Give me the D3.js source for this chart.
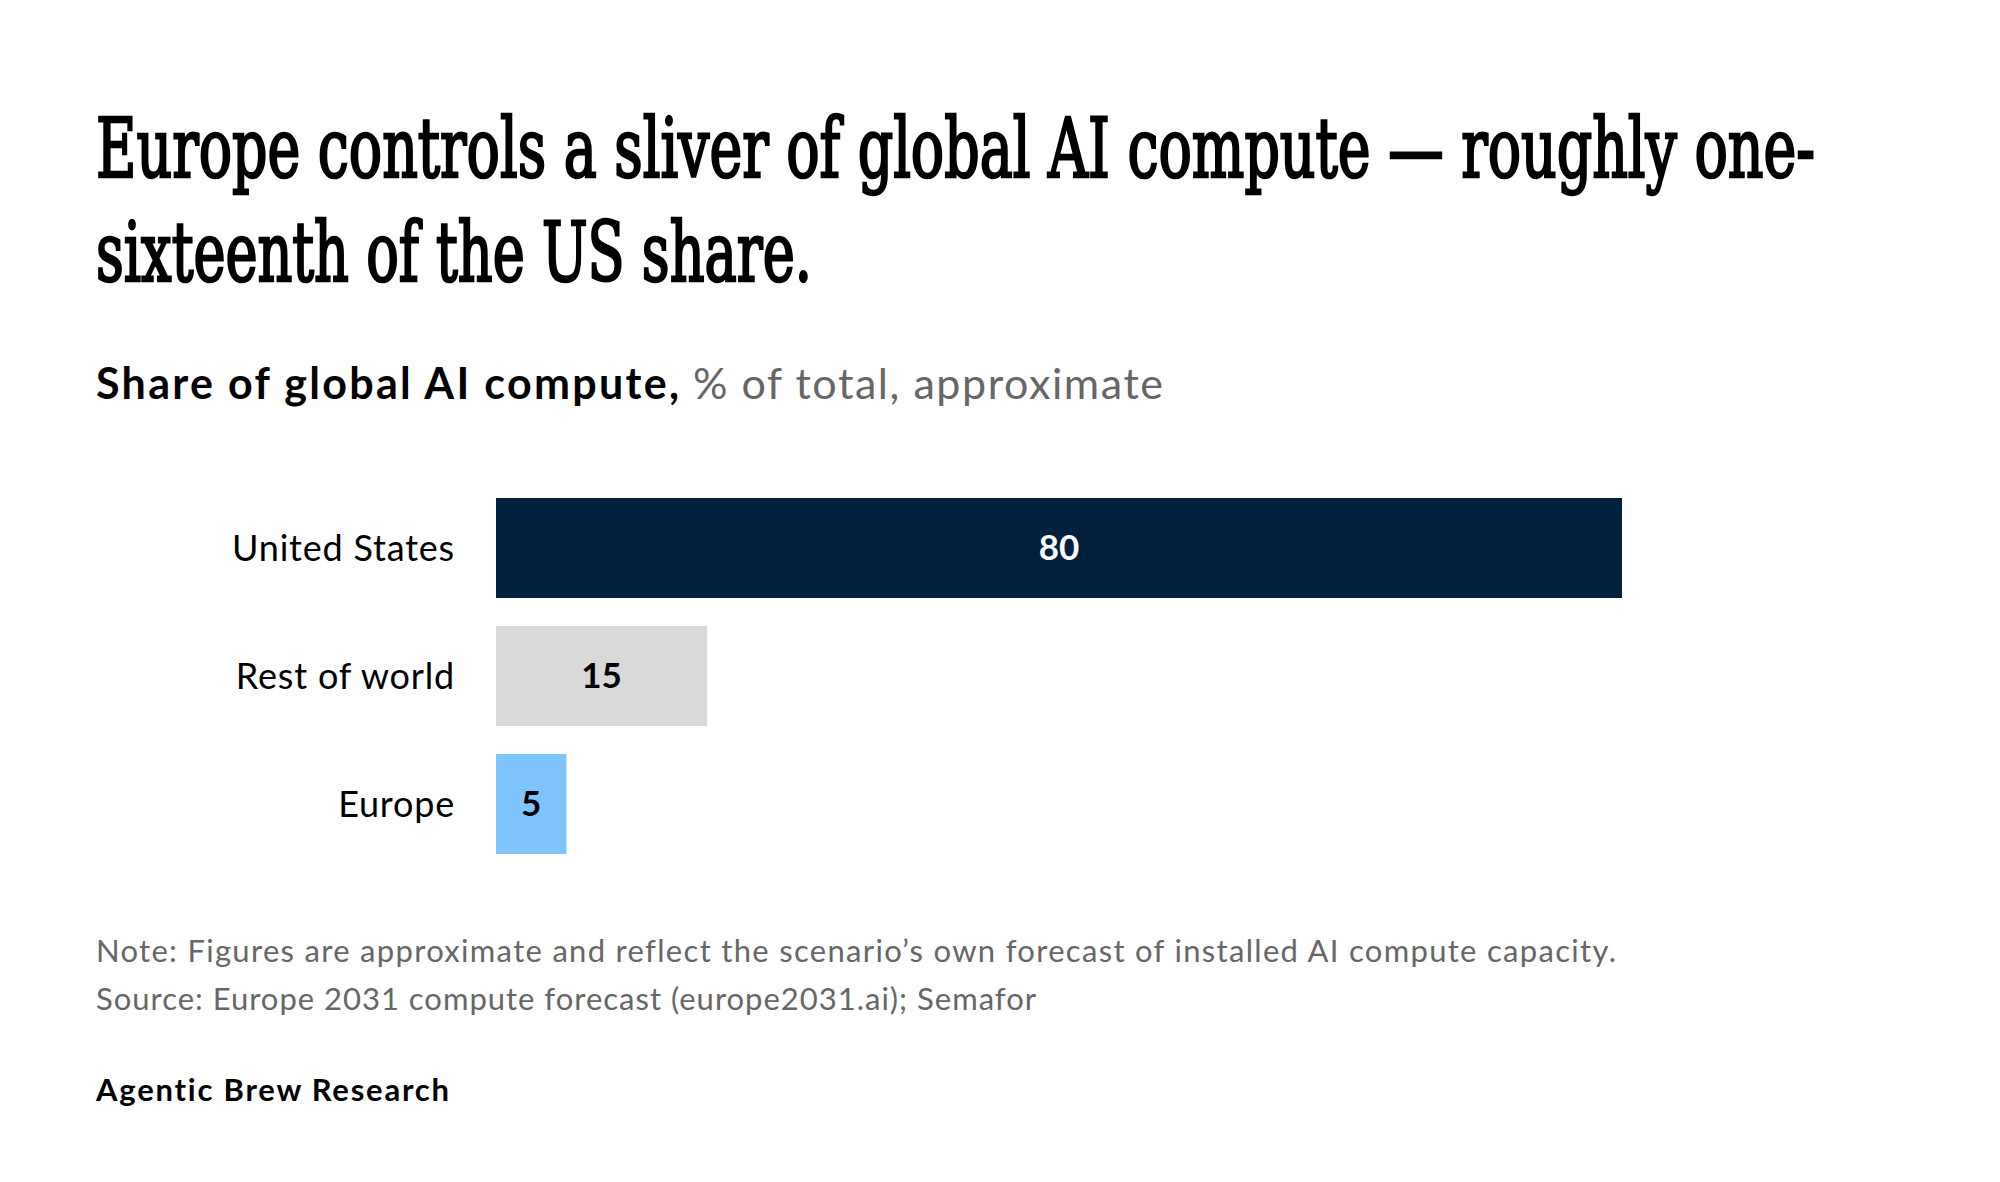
<!DOCTYPE html>
<html>
<head>
<meta charset="utf-8">
<script src="https://cdn.jsdelivr.net/npm/d3@7"></script>
<style>
  html, body { margin: 0; padding: 0; background: #ffffff; }
  svg { display: block; }
  text { font-variant-ligatures: none; font-feature-settings: "liga" 0; }
</style>
</head>
<body>
<svg id="chart" width="2000" height="1182"></svg>
<script>
const categories = ["United States", "Rest of world", "Europe"];
const values = [80, 15, 5];
const barColors = ["#01203d", "#d9d9d9", "#80c4fd"];
const labelColors = ["#ffffff", "#000000", "#000000"];
const titleLines = ["Europe controls a sliver of global AI compute \u2014 roughly one-", "sixteenth of the US share."];
const subtitleBold = "Share of global AI compute,";
const subtitleLight = "% of total, approximate";
const noteLines = ["Note: Figures are approximate and reflect the scenario\u2019s own forecast of installed AI compute capacity.",
                   "Source: Europe 2031 compute forecast (europe2031.ai); Semafor"];
const credit = "Agentic Brew Research";

const svg = d3.select("#chart");
const sans = "Lato, 'Noto Sans', sans-serif";
const serif = "'DejaVu Serif Condensed', 'DejaVu Serif', serif";

svg.append("rect").attr("width", 2000).attr("height", 1182).attr("fill", "#fff");

// Title: fit the condensed serif to the reference line widths by scaling vertically
const titleWidths = [1719, 716];
const titleSize = 83;
titleLines.forEach((t, i) => {
  const el = svg.append("text")
    .attr("x", 0).attr("y", 0)
    .attr("font-family", serif)
    .attr("font-weight", 400)
    .attr("font-size", titleSize)
    .attr("fill", "#000")
    .attr("stroke", "#000")
    .attr("stroke-width", 2.2)
    .attr("vector-effect", "non-scaling-stroke")
    .text(t);
  const w = el.node().getComputedTextLength();
  const fs = titleSize * titleWidths[i] / w;
  el.attr("font-size", fs)
    .attr("transform", `translate(96,${177 + i * 104}) scale(1,${titleSize / fs})`);
});

// Subtitle
svg.append("text")
  .attr("x", 96).attr("y", 399)
  .attr("font-family", sans)
  .attr("font-size", 43)
  .attr("font-weight", 700)
  .attr("fill", "#000")
  .attr("textLength", 583)
  .attr("lengthAdjust", "spacing")
  .text(subtitleBold);
svg.append("text")
  .attr("x", 693).attr("y", 399)
  .attr("font-family", sans)
  .attr("font-size", 43)
  .attr("font-weight", 400)
  .attr("fill", "#666666")
  .attr("textLength", 470)
  .attr("lengthAdjust", "spacing")
  .text(subtitleLight);

// Bars
const x = d3.scaleLinear().domain([0, 80]).range([496, 1622]);
const y = d3.scaleBand().domain(categories).range([498, 854]).paddingInner(28 / 128).paddingOuter(0);

const g = svg.append("g");
g.selectAll("rect.bar")
  .data(categories)
  .join("rect")
  .attr("class", "bar")
  .attr("x", x(0))
  .attr("y", d => y(d))
  .attr("width", (d, i) => x(values[i]) - x(0))
  .attr("height", y.bandwidth())
  .attr("fill", (d, i) => barColors[i]);

// Category labels via axis
const yAxis = d3.axisLeft(y).tickSize(0).tickPadding(41);
const ax = svg.append("g").attr("transform", `translate(${x(0)},0)`).call(yAxis);
ax.select(".domain").remove();
ax.selectAll("text")
  .attr("font-family", sans)
  .attr("font-size", 36)
  .attr("letter-spacing", "0.8px")
  .attr("fill", "#000")
  .attr("dy", "0.35em");

// Value labels
g.selectAll("text.val")
  .data(categories)
  .join("text")
  .attr("class", "val")
  .attr("x", (d, i) => (x(0) + x(values[i])) / 2)
  .attr("y", d => y(d) + y.bandwidth() / 2)
  .attr("dy", "0.35em")
  .attr("text-anchor", "middle")
  .attr("font-family", sans)
  .attr("font-weight", 700)
  .attr("font-size", 35)
  .attr("fill", (d, i) => labelColors[i])
  .text((d, i) => values[i]);

// Notes
const noteWidths = [1520, 940];
noteLines.forEach((t, i) => {
  svg.append("text")
    .attr("x", 96).attr("y", 962 + i * 48)
    .attr("font-family", sans)
    .attr("font-size", 31)
    .attr("fill", "#666666")
    .attr("textLength", noteWidths[i])
    .attr("lengthAdjust", "spacing")
    .text(t);
});

svg.append("text")
  .attr("x", 96).attr("y", 1101)
  .attr("font-family", sans)
  .attr("font-weight", 700)
  .attr("font-size", 31)
  .attr("fill", "#000")
  .attr("textLength", 353)
  .attr("lengthAdjust", "spacing")
  .text(credit);
</script>
</body>
</html>
